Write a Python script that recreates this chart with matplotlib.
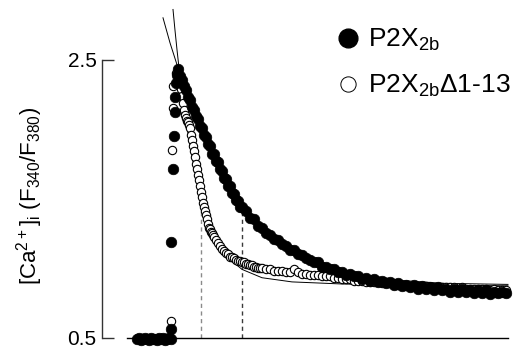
import matplotlib
matplotlib.use("Agg")
import matplotlib.pyplot as plt
from matplotlib.lines import Line2D

plt.rcParams['font.family'] = ['Liberation Sans', 'DejaVu Sans']
plt.rcParams['mathtext.default'] = 'regular'

# time in s, ratio F340/F380
# P2X2b (filled)
filled_base_t = [17.5, 18.5, 19.5, 20.5, 21.5, 22.5, 23.5, 24.5, 25.5, 26.5, 27.5, 28.5,
                 29.5, 30.5, 31.5, 32.5, 33.5, 34.5]
filled_base_v = [0.49, 0.50, 0.48, 0.49, 0.50, 0.49, 0.48, 0.50, 0.49, 0.49, 0.48, 0.50,
                 0.49, 0.50, 0.48, 0.49, 0.50, 0.49]
filled_rise_t = [34.5, 34.5, 35.5, 36.0, 36.5, 36.5, 37.0, 37.5]
filled_rise_v = [0.56, 1.19, 1.71, 1.95, 2.12, 2.23, 2.33, 2.39]
filled_t = [38, 39, 40, 41, 42, 43, 44, 45, 46, 47, 48, 49, 50, 51, 52, 53, 54, 55, 56, 57,
            58, 59, 60, 61, 62, 63, 64, 65, 66, 67, 68, 69, 70,
            72, 74, 76, 78, 80, 82, 84, 86, 88, 90, 92, 94, 96, 98, 100, 102, 104, 106,
            108, 110, 112, 114, 116, 118, 120, 122, 124, 126, 128, 130, 132, 134, 136,
            138, 140, 142, 144, 146, 148, 150, 152, 154, 156, 158, 160, 162, 164, 166,
            168, 170, 172, 174, 176, 178, 180, 182, 184, 186, 188, 190, 192, 194, 196,
            198, 200, 202]
filled_v = [2.43, 2.38, 2.35, 2.31, 2.28, 2.23, 2.21, 2.16, 2.14, 2.09, 2.07, 2.02, 2.01,
            1.96, 1.94, 1.89, 1.88, 1.82, 1.82, 1.77, 1.76, 1.71, 1.70, 1.65, 1.64, 1.59,
            1.59, 1.54, 1.53, 1.49, 1.48, 1.44, 1.44,
            1.41, 1.36, 1.35, 1.30, 1.29, 1.25, 1.24, 1.21, 1.20, 1.17, 1.16, 1.13, 1.13,
            1.10, 1.09, 1.07, 1.06, 1.04, 1.04, 1.01, 1.01, 0.99, 0.99, 0.97, 0.97, 0.95,
            0.96, 0.94, 0.94, 0.92, 0.93, 0.91, 0.92, 0.90, 0.91, 0.89, 0.90, 0.88, 0.89,
            0.87, 0.88, 0.86, 0.88, 0.85, 0.87, 0.85, 0.86, 0.84, 0.86, 0.84, 0.85, 0.83,
            0.85, 0.83, 0.85, 0.83, 0.84, 0.82, 0.84, 0.82, 0.84, 0.81, 0.83, 0.82, 0.83,
            0.82]

# P2X2b delta1-13 (open)
open_base_t = [20, 22, 24, 26, 28, 30, 32, 34]
open_base_v = [0.50, 0.49, 0.50, 0.49, 0.50, 0.49, 0.50, 0.50]
open_rise_t = [34.5, 35.0, 35.5, 35.5, 37.0]
open_rise_v = [0.62, 1.85, 2.15, 2.31, 2.40]
open_t = [38, 38.5, 39, 39.5, 40, 40.5, 41, 41.5, 42, 42.5, 43, 43.5, 44, 44.5, 45, 45.5,
          46, 46.5, 47, 47.5, 48, 48.5, 49, 49.5, 50, 50.5, 51, 51.5, 52, 52.5, 53, 53.5,
          54, 54.5, 55, 55.5, 56,
          57, 58, 59, 60, 61, 62, 63, 64, 65, 66, 67, 68, 69, 70, 71, 72, 73, 74, 75, 76,
          77, 78, 79, 80,
          82, 84, 86, 88, 90, 92, 94, 96, 98, 100, 102, 104, 106, 108, 110, 112, 114, 116,
          118, 120, 122, 124, 126, 128, 130, 132, 134, 136, 138, 140, 142, 144, 146, 148,
          150, 152, 154, 156, 158, 160, 162, 164, 166, 168, 170, 172, 174, 176, 178, 180,
          182, 184, 186, 188, 190, 192, 194, 196, 198, 200, 202]
open_v = [2.42, 2.38, 2.34, 2.29, 2.24, 2.19, 2.14, 2.10, 2.08, 2.06, 2.05, 2.03, 2.01,
          1.96, 1.92, 1.88, 1.84, 1.80, 1.75, 1.71, 1.67, 1.63, 1.59, 1.55, 1.51, 1.47,
          1.44, 1.41, 1.38, 1.35, 1.32, 1.29, 1.28, 1.26, 1.25, 1.24, 1.22,
          1.20, 1.18, 1.16, 1.14, 1.12, 1.11, 1.10, 1.08, 1.08, 1.07, 1.06, 1.05, 1.05,
          1.04, 1.04, 1.03, 1.03, 1.02, 1.02, 1.01, 1.01, 1.00, 1.00, 1.00,
          0.99, 0.99, 0.98, 0.98, 0.98, 0.97, 0.97, 0.99, 0.97, 0.96, 0.96, 0.95, 0.95,
          0.95, 0.94, 0.94, 0.94, 0.93, 0.93, 0.92, 0.92, 0.92, 0.91, 0.91, 0.91, 0.90,
          0.90, 0.90, 0.90, 0.89, 0.89, 0.89, 0.88, 0.88, 0.88, 0.88, 0.87, 0.87, 0.87,
          0.87, 0.87, 0.86, 0.86, 0.86, 0.86, 0.86, 0.86, 0.86, 0.85, 0.86, 0.85, 0.85,
          0.85, 0.85, 0.85, 0.85, 0.84, 0.85, 0.84, 0.84, 0.84]

# exponential fits
fit_filled_t = [30.5, 34, 38, 42, 46, 50, 55, 60, 65, 70, 80, 90, 100, 115, 130, 150,
                170, 190, 203]
fit_filled_v = [2.80, 2.62, 2.44, 2.26, 2.10, 1.95, 1.80, 1.67, 1.55, 1.45, 1.30, 1.19,
                1.10, 1.01, 0.955, 0.91, 0.89, 0.885, 0.882]
fit_open_t = [35.5, 36.5, 37.5, 38.5, 40, 42, 44, 46, 48, 50, 52, 54, 56, 60, 65, 70, 80,
              95, 120, 160, 203]
fit_open_v = [2.86, 2.71, 2.57, 2.44, 2.27, 2.06, 1.88, 1.73, 1.60, 1.49, 1.40, 1.32,
              1.25, 1.14, 1.05, 0.99, 0.93, 0.90, 0.885, 0.875, 0.872]

# decay time constants (dashed markers)
tau_t = [49.5, 70]
tau_top = [1.41, 1.43]
tau_colors = ['#8a8a8a', '#3a3a3a']

fig = plt.figure(figsize=(5.22, 3.48), dpi=100)
ax = fig.add_axes([102 / 522, 10.5 / 348, 420 / 522, 337.5 / 348])

for t, top, c in zip(tau_t, tau_top, tau_colors):
    ax.plot([t, t], [0.5, top], color=c, lw=1.0, ls=(0, (3, 2.5)))

ax.plot(fit_filled_t, fit_filled_v, color='black', lw=0.7, clip_on=False)
ax.plot(fit_open_t, fit_open_v, color='black', lw=0.7, clip_on=False)

ax.plot(open_base_t + open_rise_t + open_t, open_base_v + open_rise_v + open_v,
        ls='none', marker='o', ms=6.0, mfc='white', mec='black', mew=0.8, clip_on=False)
ax.plot(filled_base_t + filled_rise_t + filled_t, filled_base_v + filled_rise_v + filled_v,
        ls='none', marker='o', ms=7.6, mfc='black', mec='black', mew=0.5, clip_on=False)

ax.set_xlim(0, 210)
ax.set_ylim(0.5, 0.5 + 337.5 / 139)
ax.spines['top'].set_visible(False)
ax.spines['right'].set_visible(False)
ax.spines['left'].set_bounds(0.5, 2.5)
ax.spines['bottom'].set_bounds(12.5, 203)
ax.spines['left'].set_color('#333333')
ax.spines['left'].set_linewidth(1.0)
ax.spines['bottom'].set_linewidth(1.0)
ax.set_xticks([])
ax.set_yticks([0.5, 2.5])
ax.set_yticklabels(['0.5', '2.5'])
ax.tick_params(axis='y', direction='in', length=8.5, width=1.0, color='#333333',
               labelsize=15, pad=4)
ax.set_ylabel('[Ca$^{2+}$]$_i$ (F$_{340}$/F$_{380}$)', fontsize=16)
ax.yaxis.set_label_coords(-0.135, 0.42)

handles = [Line2D([], [], ls='none', marker='o', ms=13.5, mfc='black', mec='black'),
           Line2D([], [], ls='none', marker='o', ms=11, mfc='white', mec='black', mew=0.7)]
labels = ['P2X$_{2b}$', 'P2X$_{2b}$\u03941-13']
ax.legend(handles, labels, loc='upper left', bbox_to_anchor=(335 / 522, 1 - 27 / 348),
          bbox_transform=fig.transFigure, frameon=False, fontsize=19,
          handlelength=0.95, handletextpad=0.3, labelspacing=0.75, borderaxespad=0,
          borderpad=0)

fig.savefig('out.png', dpi=100)
